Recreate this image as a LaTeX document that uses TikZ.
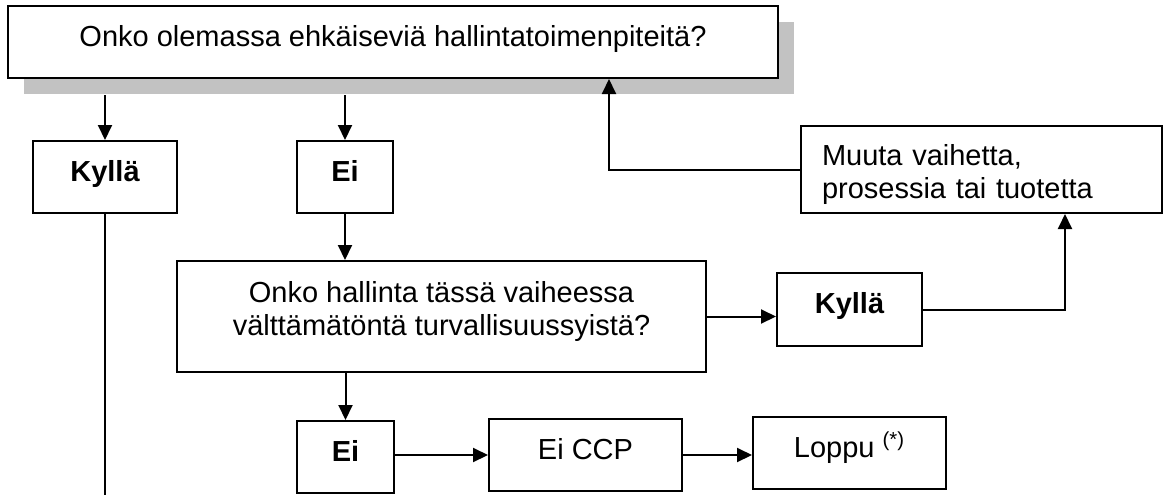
\documentclass[tikz,border=0pt]{standalone}
\usepackage{fontspec}
\setmainfont{Liberation Sans}
\usetikzlibrary{arrows.meta,shadows}

\begin{document}
\begin{tikzpicture}[x=0.5pt,y=-0.5pt,
	box/.style={draw=black, line width=1pt, fill=white, inner sep=0pt, text height=10pt, text depth=6pt, align=center, font=\fontsize{14.5}{16.5}\selectfont},
	answer/.style={box, font=\fontsize{14.5}{16.5}\selectfont\bfseries},
	line/.style={black, line width=1pt},
	>={Triangle[length=7.5pt,width=7pt]}]
	\useasboundingbox (0,0) rectangle (1169,494);

	\node[box, minimum width=385pt, minimum height=36pt, drop shadow={shadow xshift=8pt, shadow yshift=-8pt, opacity=1, fill=black!24}] (q1) at (393,42) {Onko olemassa ehkäiseviä hallintatoimenpiteitä?};
	\node[answer, minimum width=72pt, minimum height=36pt] (yes1) at (105,177) {Kyllä};
	\node[answer, minimum width=48pt, minimum height=36pt] (no1) at (345,177) {Ei};
	\node[box, minimum width=264.5pt, minimum height=55.5pt, text height=26.5pt, text depth=8pt] (q2) at (441.5,316.5) {Onko hallinta tässä vaiheessa\\välttämätöntä turvallisuussyistä?};
	\node[answer, minimum width=72.5pt, minimum height=36.5pt] (yes2) at (849.5,309.5) {Kyllä};
	\node[box, minimum width=180.5pt, minimum height=43.5pt, text width=159.5pt, inner xsep=10.5pt, align=left, text height=10pt, text depth=14.5pt] (change) at (981.5,169.5) {Muuta vaihetta,\\prosessia tai tuotetta};
	\node[answer, minimum width=48.5pt, minimum height=36pt] (no2) at (345.5,457) {Ei};
	\node[box, minimum width=96.5pt, minimum height=36pt] (noccp) at (585.5,455) {Ei CCP};
	\node[box, minimum width=96.5pt, minimum height=36pt] (stop) at (849.5,453) {Loppu \textsuperscript{(*)}};
	\coordinate (yes1end) at (105,500);

	% question 1
	\draw[line,->] ([yshift=-8pt]q1.south -| yes1.north) -- (yes1.north);
	\draw[line,->] ([yshift=-8pt]q1.south -| no1.north) -- (no1.north);
	% question 2
	\draw[line,->] (no1.south) -- (no1.south |- q2.north);
	\draw[line,->] (q2.south -| no2.north) -- (no2.north);
	\draw[line,->] (q2.east) -- (q2.east -| yes2.west);
	% back to question 1
	\draw[line,->] (yes2.east) -| ([xshift=41.75pt]change.south);
	\draw[line,->] (change.west) -| ([xshift=108pt]q1.south);
	% end
	\draw[line,->] (noccp.west -| no2.east) -- (noccp.west);
	\draw[line,->] (noccp.east) -- (noccp.east -| stop.west);
	\draw[line] (yes1.south) -- (yes1end);
\end{tikzpicture}
\end{document}
